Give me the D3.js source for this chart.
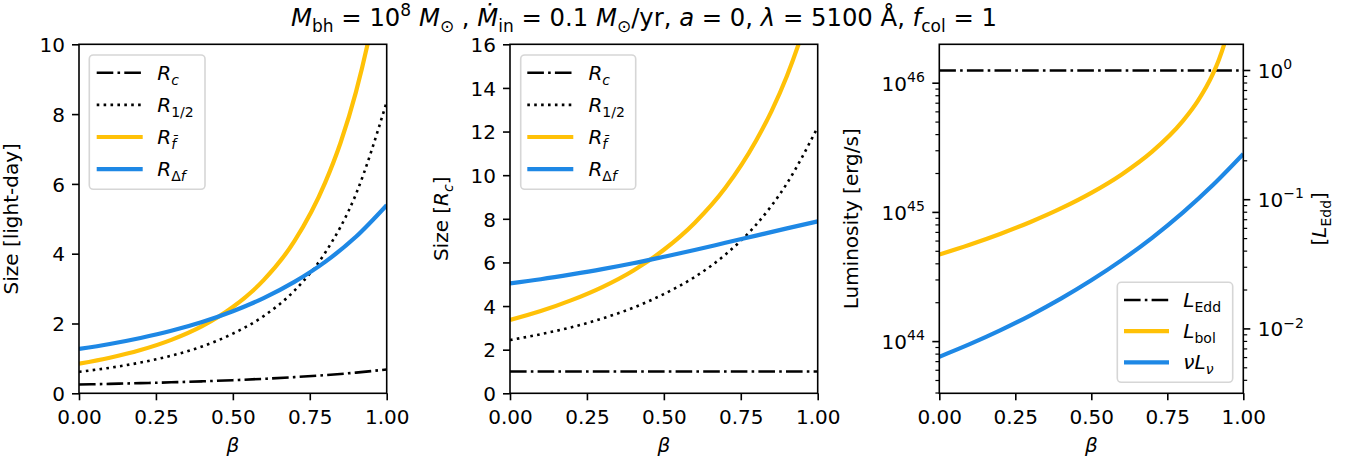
<!DOCTYPE html>
<html lang="en">
<head>
<meta charset="UTF-8">
<script src="https://d3js.org/d3.v7.min.js"></script>
<style>
  body { margin: 0; background: #fff; }
  svg text { font-family: "DejaVu Sans", sans-serif; fill: #000; white-space: pre; }
</style>
<title>Disk sizes vs beta</title>
</head>
<body>
<svg id="fig" width="1369" height="463"></svg>
<script>
// ---- data ----
const betaGrid = [0, 0.1, 0.2, 0.3, 0.4, 0.5, 0.6, 0.7, 0.8, 0.9, 1.0];
const betaFine = [0, 0.1, 0.2, 0.3, 0.4, 0.5, 0.6, 0.7, 0.8, 0.85, 0.9, 0.95, 1.0];
const betaLbol = [0, 0.1, 0.2, 0.3, 0.4, 0.5, 0.6, 0.7, 0.8, 0.85, 0.9, 0.92, 0.94, 0.95];

// left panel, light-days
const rcLd    = [0.252, 0.270, 0.291, 0.315, 0.343, 0.376, 0.415, 0.463, 0.521, 0.593, 0.684];
const rHalfLd = [0.615, 0.731, 0.881, 1.078, 1.342, 1.71, 2.211, 2.941, 4.028, 5.705, 8.35];
const rFbarLd = [0.847, 1.017, 1.239, 1.531, 1.925, 2.472, 3.242, 4.358, 6.037, 7.18, 8.63, 10.50, 12.86];
const rDfLd   = [1.270, 1.412, 1.584, 1.790, 2.042, 2.352, 2.728, 3.193, 3.766, 4.484, 5.390];

// middle panel, in units of R_c
const rcRc    = [1, 1, 1, 1, 1, 1, 1, 1, 1, 1, 1];
const rHalfRc = [2.44, 2.71, 3.03, 3.43, 3.92, 4.55, 5.33, 6.36, 7.73, 9.62, 12.2];
const rFbarRc = [3.36, 3.77, 4.27, 4.87, 5.62, 6.58, 7.81, 9.42, 11.59, 12.94, 14.55, 16.51, 18.8];
const rDfRc   = [5.04, 5.23, 5.45, 5.69, 5.96, 6.26, 6.57, 6.90, 7.23, 7.56, 7.88];

// right panel, erg/s
const lEdd  = 1.254e46;
const lEddLine = [lEdd, lEdd];
const lBol  = [4.72e44, 5.62e44, 6.81e44, 8.43e44, 1.073e45, 1.416e45, 1.967e45, 2.95e45,
               5.06e45, 7.26e45, 1.18e46, 1.526e46, 2.107e46, 2.575e46];
const nuLnu = [7.63e43, 9.55e43, 1.221e44, 1.599e44, 2.150e44, 2.980e44, 4.270e44, 6.358e44,
               9.912e44, 1.628e45, 2.833e45];

const xTicks = [0, 0.25, 0.5, 0.75, 1];
const yTicksLd = [0, 2, 4, 6, 8, 10];
const yTicksRc = [0, 2, 4, 6, 8, 10, 12, 14, 16];
const lumDecades = [44, 45, 46];
const eddDecades = [-2, -1, 0];

// ---- layout ----
const FS = 20;
const TITLE_FS = 24.3;
const plotTop = 44.3, plotBottom = 393.3;
const YELLOW = "#ffc107", BLUE = "#1e88e5";
const svg = d3.select("#fig");

const styles = {
  dashdot: { stroke: "#000", width: 2.6, dash: "16.6,4.2,2.6,4.2" },
  dotted:  { stroke: "#000", width: 2.6, dash: "2.6,4.3" },
  yellow:  { stroke: YELLOW, width: 4.2, dash: null },
  blue:    { stroke: BLUE, width: 4.2, dash: null }
};

// mathtext-ish rich text: r roman, i italic, sb sub roman, si sub italic, sp superscript
function rich(sel, parts, size) {
  let shift = 0;
  parts.forEach(([t, k]) => {
    const sub = k === "sb" || k === "si";
    const sup = k === "sp";
    const target = sub ? 0.24 * size : sup ? -0.43 * size : 0;
    sel.append("tspan")
      .attr("dy", target - shift)
      .attr("font-size", (sub || sup) ? size * 0.7 : size)
      .attr("font-style", (k === "i" || k === "si") ? "italic" : "normal")
      .text(t);
    shift = target;
  });
  return sel;
}

function drawLine(g, x, y, xs, ys, st) {
  const line = d3.line().x((d, i) => x(xs[i])).y(d => y(d)).curve(d3.curveMonotoneX);
  g.append("path")
    .attr("d", line(ys))
    .attr("fill", "none")
    .attr("stroke", st.stroke)
    .attr("stroke-width", st.width)
    .attr("stroke-dasharray", st.dash)
    .attr("stroke-linecap", "butt");
}

function drawLegend(g, x0, y0, w, h, rows, rowY0, gap, lx0, lx1, tx) {
  g.append("rect")
    .attr("x", x0).attr("y", y0).attr("width", w).attr("height", h)
    .attr("rx", 4).attr("fill", "#fff").attr("stroke", "#d6d6d6").attr("stroke-width", 1.6);
  rows.forEach((r, i) => {
    const yy = rowY0 + i * gap;
    const st = styles[r.style];
    g.append("line")
      .attr("x1", x0 + lx0).attr("x2", x0 + lx1).attr("y1", yy).attr("y2", yy)
      .attr("stroke", st.stroke).attr("stroke-width", st.width)
      .attr("stroke-dasharray", st.dash);
    rich(g.append("text").attr("x", x0 + tx).attr("y", yy + 7).attr("font-size", FS), r.label, FS);
  });
}

function vLabel(x, y, parts) {
  const t = svg.append("text")
    .attr("transform", `translate(${x},${y}) rotate(-90)`)
    .attr("text-anchor", "middle")
    .attr("font-size", FS);
  const inner = t.append("tspan").attr("dy", "0.35em");
  rich(inner, parts, FS);
}

function panelBase(id, left, right, yScale, linearTicks) {
  const g = svg.append("g");
  const x = d3.scaleLinear().domain([0, 1]).range([left, right]);

  svg.append("clipPath").attr("id", id)
    .append("rect").attr("x", left).attr("y", plotTop)
    .attr("width", right - left).attr("height", plotBottom - plotTop);

  const xAxis = g.append("g").attr("transform", `translate(0,${plotBottom})`)
    .call(d3.axisBottom(x).tickValues(xTicks).tickFormat(d3.format(".2f"))
      .tickSize(7).tickPadding(7).tickSizeOuter(0));
  xAxis.select(".domain").remove();
  xAxis.selectAll("line").attr("stroke-width", 1.6);
  xAxis.selectAll("text").attr("font-size", FS).attr("font-family", "DejaVu Sans").attr("dy", "0.84em");

  if (linearTicks) {
    const yAxis = g.append("g").attr("transform", `translate(${left},0)`)
      .call(d3.axisLeft(yScale).tickValues(linearTicks).tickFormat(d3.format("d"))
        .tickSize(7).tickPadding(7).tickSizeOuter(0));
    yAxis.select(".domain").remove();
    yAxis.selectAll("line").attr("stroke-width", 1.6);
    yAxis.selectAll("text").attr("font-size", FS).attr("font-family", "DejaVu Sans").attr("dy", "0.36em");
  }

  rich(g.append("text").attr("x", (left + right) / 2).attr("y", 452)
    .attr("text-anchor", "middle").attr("font-size", FS), [["β", "i"]], FS);

  const plot = g.append("g").attr("clip-path", `url(#${id})`);
  return { g, x, plot };
}

function frame(g, left, right) {
  g.append("rect").attr("x", left).attr("y", plotTop)
    .attr("width", right - left).attr("height", plotBottom - plotTop)
    .attr("fill", "none").attr("stroke", "#000").attr("stroke-width", 1.6);
}

// ---- title ----
rich(svg.append("text").attr("x", 644).attr("y", 26).attr("text-anchor", "middle").attr("font-size", TITLE_FS), [
  ["M", "i"], ["bh", "sb"], [" = 10", "r"], ["8", "sp"], [" ", "r"], ["M", "i"], ["⊙", "sb"],
  [" , ", "r"], ["Ṁ", "i"], ["in", "sb"], [" = 0.1 ", "r"], ["M", "i"], ["⊙", "sb"], ["/yr, ", "r"],
  ["a", "i"], [" = 0, ", "r"], ["λ", "i"], [" = 5100 Å, ", "r"], ["f", "i"], ["col", "sb"], [" = 1", "r"]
], TITLE_FS);

const sizeLegend = [
  { style: "dashdot", label: [["R", "i"], ["c", "si"]] },
  { style: "dotted",  label: [["R", "i"], ["1/2", "sb"]] },
  { style: "yellow",  label: [["R", "i"], ["f\u0304", "si"]] },
  { style: "blue",    label: [["R", "i"], ["Δ", "sb"], ["f", "si"]] }
];

// ---- panel 1: light-days ----
{
  const left = 79, right = 386.7;
  const y = d3.scaleLinear().domain([0, 10]).range([plotBottom, plotTop]);
  const p = panelBase("clip1", left, right, y, yTicksLd);
  drawLine(p.plot, p.x, y, betaGrid, rcLd, styles.dashdot);
  drawLine(p.plot, p.x, y, betaGrid, rHalfLd, styles.dotted);
  drawLine(p.plot, p.x, y, betaFine, rFbarLd, styles.yellow);
  drawLine(p.plot, p.x, y, betaGrid, rDfLd, styles.blue);
  drawLegend(p.g, left + 10.3, plotTop + 10.7, 115.7, 134.3, sizeLegend, 72.8, 32.1, 7.4, 53.4, 68);
  frame(p.g, left, right);
  vLabel(18, (plotTop + plotBottom) / 2, [["Size [light-day]", "r"]]);
}

// ---- panel 2: units of R_c ----
{
  const left = 510, right = 817.7;
  const y = d3.scaleLinear().domain([0, 16]).range([plotBottom, plotTop]);
  const p = panelBase("clip2", left, right, y, yTicksRc);
  drawLine(p.plot, p.x, y, betaGrid, rcRc, styles.dashdot);
  drawLine(p.plot, p.x, y, betaGrid, rHalfRc, styles.dotted);
  drawLine(p.plot, p.x, y, betaFine, rFbarRc, styles.yellow);
  drawLine(p.plot, p.x, y, betaGrid, rDfRc, styles.blue);
  drawLegend(p.g, left + 10.7, plotTop + 10.7, 115, 134.3, sizeLegend, 72.8, 32.1, 6.6, 52.6, 67.7);
  frame(p.g, left, right);
  vLabel(448, (plotTop + plotBottom) / 2, [["Size [", "r"], ["R", "i"], ["c", "si"], ["]", "r"]]);
}

// ---- panel 3: luminosity ----
{
  const left = 939.3, right = 1243.3;
  const lo = 3.98e43, hi = 2.0e46;
  const y = d3.scaleLog().domain([lo, hi]).range([plotBottom, plotTop]);
  const yr = d3.scaleLog().domain([lo / lEdd, hi / lEdd]).range([plotBottom, plotTop]);
  const p = panelBase("clip3", left, right, y, null);

  const minorL = [], minorR = [];
  [43, 44, 45].forEach(e => d3.range(2, 10).forEach(m => minorL.push(m * Math.pow(10, e))));
  [-3, -2, -1].forEach(e => d3.range(2, 10).forEach(m => minorR.push(m * Math.pow(10, e))));

  const ax = p.g.append("g");
  minorL.filter(v => v > lo && v < hi).forEach(v => {
    ax.append("line").attr("x1", left - 3.9).attr("x2", left).attr("y1", y(v)).attr("y2", y(v))
      .attr("stroke", "#000").attr("stroke-width", 1.2);
  });
  lumDecades.forEach(e => {
    const yy = y(Math.pow(10, e));
    ax.append("line").attr("x1", left - 7).attr("x2", left).attr("y1", yy).attr("y2", yy)
      .attr("stroke", "#000").attr("stroke-width", 1.6);
    rich(ax.append("text").attr("x", left - 14.5).attr("y", yy + 7.4).attr("text-anchor", "end")
      .attr("font-size", FS), [["10", "r"], [String(e), "sp"]], FS);
  });
  minorR.filter(v => v > lo / lEdd && v < hi / lEdd).forEach(v => {
    ax.append("line").attr("x1", right).attr("x2", right + 3.9).attr("y1", yr(v)).attr("y2", yr(v))
      .attr("stroke", "#000").attr("stroke-width", 1.2);
  });
  eddDecades.forEach(e => {
    const yy = yr(Math.pow(10, e));
    ax.append("line").attr("x1", right).attr("x2", right + 7).attr("y1", yy).attr("y2", yy)
      .attr("stroke", "#000").attr("stroke-width", 1.6);
    rich(ax.append("text").attr("x", right + 14.5).attr("y", yy + 7.4)
      .attr("font-size", FS), [["10", "r"], [e === 0 ? "0" : "\u2212" + (-e), "sp"]], FS);
  });

  drawLine(p.plot, p.x, y, [0, 1], lEddLine, styles.dashdot);
  drawLine(p.plot, p.x, y, betaLbol, lBol, styles.yellow);
  drawLine(p.plot, p.x, y, betaGrid, nuLnu, styles.blue);

  drawLegend(p.g, 1117.3, 282.3, 115.4, 100, [
    { style: "dashdot", label: [["L", "i"], ["Edd", "sb"]] },
    { style: "yellow",  label: [["L", "i"], ["bol", "sb"]] },
    { style: "blue",    label: [["νL", "i"], ["ν", "si"]] }
  ], 300, 31.2, 6.7, 51.7, 66);
  frame(p.g, left, right);
  vLabel(858, (plotTop + plotBottom) / 2, [["Luminosity [erg/s]", "r"]]);
  vLabel(1326, (plotTop + plotBottom) / 2, [["[", "r"], ["L", "i"], ["Edd", "sb"], ["]", "r"]]);
}
</script>
</body>
</html>
